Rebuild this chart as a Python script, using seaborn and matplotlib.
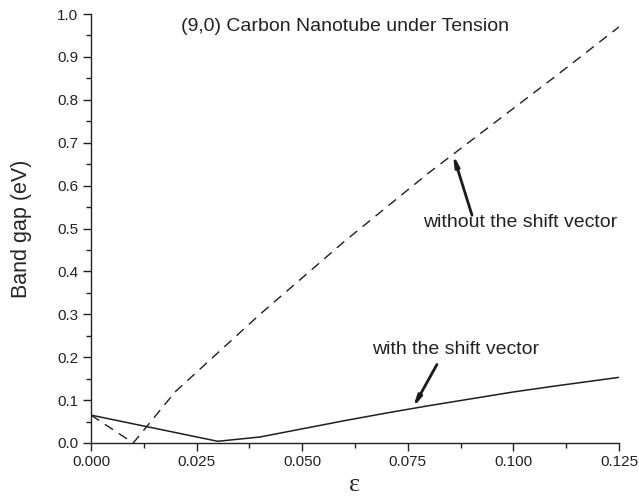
import matplotlib
matplotlib.use("Agg")
import matplotlib.pyplot as plt
import seaborn as sns
import pandas as pd

# Data
strain_without = [0.0, 0.01, 0.02, 0.03, 0.04, 0.05, 0.06, 0.07, 0.08, 0.09, 0.10, 0.11, 0.125]
gap_without = [0.065, 0.0, 0.12, 0.21, 0.30, 0.385, 0.47, 0.55, 0.63, 0.705, 0.78, 0.855, 0.97]

strain_with = [0.0, 0.03, 0.04, 0.05, 0.06, 0.07, 0.08, 0.09, 0.10, 0.11, 0.125]
gap_with = [0.065, 0.004, 0.014, 0.033, 0.052, 0.070, 0.087, 0.103, 0.119, 0.133, 0.153]

x_ticks = [0.000, 0.025, 0.050, 0.075, 0.100, 0.125]
x_ticklabels = ["0.000", "0.025", "0.050", "0.075", "0.100", "0.125"]
y_ticks = [0.0, 0.1, 0.2, 0.3, 0.4, 0.5, 0.6, 0.7, 0.8, 0.9, 1.0]

title_text = "(9,0) Carbon Nanotube under Tension"
label_without = "without the shift vector"
label_with = "with the shift vector"

sns.set_style("ticks")
plt.rcParams["font.family"] = ["Liberation Sans", "DejaVu Sans"]
plt.rcParams["text.color"] = "#222222"

fig = plt.figure(figsize=(6.39, 4.96), dpi=100)
ax = fig.add_axes([91 / 639, 1 - 443 / 496, (619 - 91) / 639, (443 - 14) / 496])

df_wo = pd.DataFrame({"strain": strain_without, "gap": gap_without})
df_w = pd.DataFrame({"strain": strain_with, "gap": gap_with})

line_color = "#1e1e1e"
sns.lineplot(data=df_wo, x="strain", y="gap", ax=ax, color=line_color,
             linewidth=1.0, dashes=False, estimator=None, sort=False)
ax.lines[-1].set_dashes((7, 5))
sns.lineplot(data=df_w, x="strain", y="gap", ax=ax, color=line_color,
             linewidth=1.1, estimator=None, sort=False)

ax.set_xlim(0, 0.125)
ax.set_ylim(0, 1.0)
ax.set_xticks(x_ticks)
ax.set_xticklabels(x_ticklabels)
ax.set_yticks(y_ticks)
ax.set_yticklabels([f"{v:.1f}" for v in y_ticks])
ax.set_xticks([0.0125, 0.0375, 0.0625, 0.0875, 0.1125], minor=True)
ax.set_yticks([0.05 + 0.1 * i for i in range(10)], minor=True)

ax.tick_params(axis="both", which="major", direction="out", length=6,
               width=1.0, labelsize=11, colors="#222222", pad=3)
ax.tick_params(axis="both", which="minor", direction="out", length=3.5,
               width=1.0, colors="#222222")

for side in ["top", "right"]:
    ax.spines[side].set_visible(False)
for side in ["left", "bottom"]:
    ax.spines[side].set_color("#222222")
    ax.spines[side].set_linewidth(1.0)

ax.set_ylabel("Band gap (eV)", fontsize=15.5, labelpad=18)
ax.set_xlabel("ε", fontsize=19, family=["Liberation Serif", "DejaVu Serif"], labelpad=3)

ax.text(0.0602, 0.972, title_text, fontsize=14, ha="center", va="center")

ax.annotate(label_without, xy=(0.0857, 0.671), xytext=(0.1015, 0.515),
            fontsize=14, ha="center", va="center", color="#222222")
ax.annotate("", xy=(0.0857, 0.673), xytext=(0.0902, 0.531),
            arrowprops=dict(arrowstyle="-|>,head_length=0.6,head_width=0.12",
                            lw=2.0, color="#1a1a1a", shrinkA=0, shrinkB=0))

ax.annotate(label_with, xy=(0.076, 0.081), xytext=(0.0863, 0.219),
            fontsize=14, ha="center", va="center", color="#222222")
ax.annotate("", xy=(0.0762, 0.082), xytext=(0.0819, 0.183),
            arrowprops=dict(arrowstyle="-|>,head_length=0.6,head_width=0.12",
                            lw=2.0, color="#1a1a1a", shrinkA=0, shrinkB=0))

fig.savefig("out.png", dpi=100)
